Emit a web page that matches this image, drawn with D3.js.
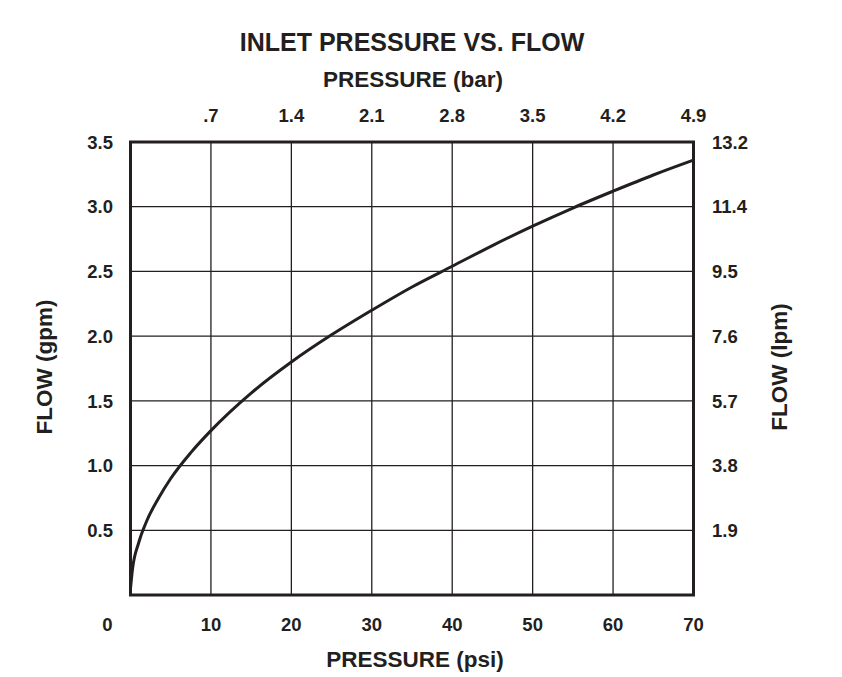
<!DOCTYPE html>
<html>
<head>
<meta charset="utf-8">
<script src="https://cdn.jsdelivr.net/npm/d3@7/dist/d3.min.js"></script>
<style>
  body { margin: 0; background: #fff; }
  svg { display: block; }
  text { font-family: "Liberation Sans", Arial, Helvetica, sans-serif; fill: #231f20; }
</style>
</head>
<body>
<svg id="chart" width="842" height="677"></svg>
<script>
// curve: pressure (psi) -> flow (gpm)
var pressurePsi = [0, 0.25, 1, 2, 3.5, 5, 7.5, 10, 15, 20, 25, 30, 35, 40, 45, 50, 55, 60, 65, 70];
var flowGpm = [0.05, 0.2, 0.4, 0.57, 0.75, 0.9, 1.1, 1.27, 1.56, 1.8, 2.01, 2.2, 2.38, 2.54, 2.7, 2.85, 2.99, 3.12, 3.245, 3.36];

var psiTicks = [0, 10, 20, 30, 40, 50, 60, 70];
var barLabels = ['.7', '1.4', '2.1', '2.8', '3.5', '4.2', '4.9'];
var gpmTicks = [0.5, 1.0, 1.5, 2.0, 2.5, 3.0, 3.5];
var lpmLabels = ['1.9', '3.8', '5.7', '7.6', '9.5', '11.4', '13.2'];

var margin = { left: 130.5, right: 148.5, top: 142, bottom: 82 };
var width = 842, height = 677;

var svg = d3.select('#chart');

var x = d3.scaleLinear().domain([0, 70]).range([margin.left, width - margin.right]);
var y = d3.scaleLinear().domain([0, 3.5]).range([height - margin.bottom, margin.top]);

// grid
var grid = svg.append('g').attr('stroke', '#231f20').attr('stroke-width', 1.3);
grid.selectAll('.vgrid').data(psiTicks.slice(1, -1)).enter()
  .append('line').attr('class', 'vgrid')
  .attr('x1', x).attr('x2', x)
  .attr('y1', y(0)).attr('y2', y(3.5));
grid.selectAll('.hgrid').data(gpmTicks.slice(0, -1)).enter()
  .append('line').attr('class', 'hgrid')
  .attr('y1', y).attr('y2', y)
  .attr('x1', x(0)).attr('x2', x(70));

// curve
var line = d3.line()
  .x(function(d) { return x(d[0]); })
  .y(function(d) { return y(d[1]); })
  .curve(d3.curveMonotoneX);

svg.append('path')
  .datum(d3.zip(pressurePsi, flowGpm))
  .attr('fill', 'none')
  .attr('stroke', '#231f20')
  .attr('stroke-width', 3)
  .attr('d', line);

// frame
svg.append('rect')
  .attr('x', x(0)).attr('y', y(3.5))
  .attr('width', x(70) - x(0)).attr('height', y(0) - y(3.5))
  .attr('fill', 'none').attr('stroke', '#231f20').attr('stroke-width', 3);

var tickFont = { size: '18.5px', weight: 'bold' };

// bottom ticks (psi)
svg.selectAll('.psi').data(psiTicks).enter()
  .append('text').attr('class', 'psi')
  .attr('x', function(d) { return d === 0 ? x(d) - 23 : x(d); })
  .attr('y', 631)
  .attr('text-anchor', 'middle')
  .style('font-size', tickFont.size).style('font-weight', tickFont.weight)
  .text(function(d) { return d; });

// top ticks (bar)
svg.selectAll('.bar').data(barLabels).enter()
  .append('text').attr('class', 'bar')
  .attr('x', function(d, i) { return x(psiTicks[i + 1]); })
  .attr('y', 122)
  .attr('text-anchor', 'middle')
  .style('font-size', tickFont.size).style('font-weight', tickFont.weight)
  .text(function(d) { return d; });

// left ticks (gpm)
svg.selectAll('.gpm').data(gpmTicks).enter()
  .append('text').attr('class', 'gpm')
  .attr('x', 113)
  .attr('y', y)
  .attr('dy', '0.36em')
  .attr('text-anchor', 'end')
  .style('font-size', tickFont.size).style('font-weight', tickFont.weight)
  .text(function(d) { return d.toFixed(1); });

// right ticks (lpm)
svg.selectAll('.lpm').data(lpmLabels).enter()
  .append('text').attr('class', 'lpm')
  .attr('x', 712)
  .attr('y', function(d, i) { return y(gpmTicks[i]); })
  .attr('dy', '0.36em')
  .attr('text-anchor', 'start')
  .style('font-size', tickFont.size).style('font-weight', tickFont.weight)
  .text(function(d) { return d; });

// titles
function title(txt, tx, ty, size, rot) {
  svg.append('text')
    .attr('transform', 'translate(' + tx + ',' + ty + ')' + (rot ? ' rotate(' + rot + ')' : ''))
    .attr('text-anchor', 'middle')
    .style('font-size', size + 'px').style('font-weight', 'bold')
    .text(txt);
}

title('INLET PRESSURE VS. FLOW', 412, 51, 25);
title('PRESSURE (bar)', 413, 87, 22.5);
title('PRESSURE (psi)', 415, 667, 22.5);
title('FLOW (gpm)', 52, 367, 22.5, -90);
title('FLOW (lpm)', 787, 367, 22.5, -90);
</script>
</body>
</html>
